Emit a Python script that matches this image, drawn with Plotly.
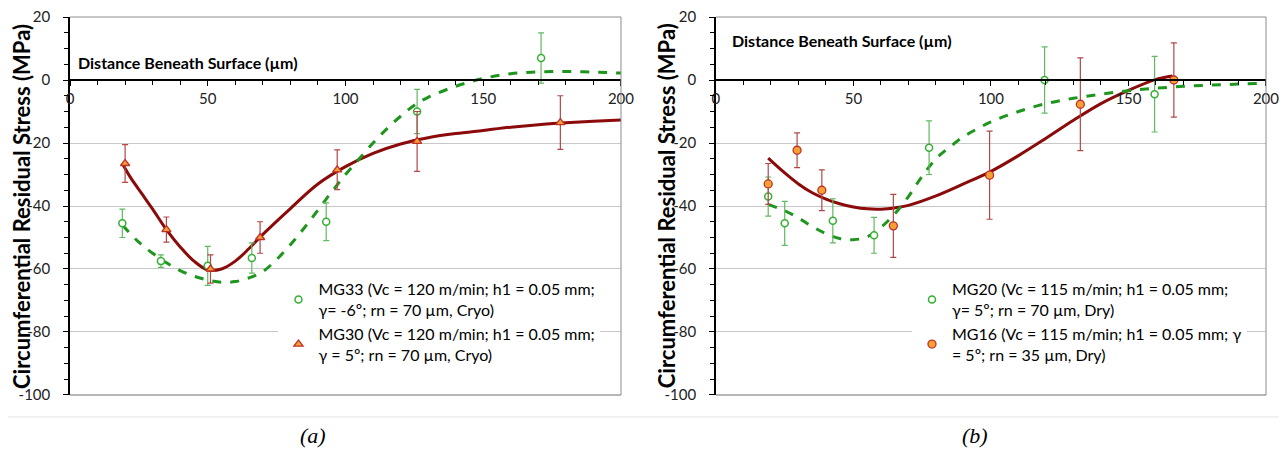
import plotly.graph_objects as go

# ---------------- panel (a) ----------------
a_mg33_x = [19, 33, 50, 66, 93, 126, 171]
a_mg33_y = [-45.5, -57.5, -59, -56.5, -45, -10, 7]
a_mg33_err = [4.5, 2, 6.2, 4.8, 6, 7, 8]

a_mg30_x = [20, 35, 51, 69, 97, 126, 178]
a_mg30_y = [-26.5, -47.5, -60, -50, -28.5, -19.5, -13.5]
a_mg30_err = [6, 4, 4.5, 5, 6.3, 9.5, 8.5]

# trend curves
a_fit33_x = [19, 25, 30, 35, 40, 45, 50, 55, 60, 65, 70, 75, 80, 85, 90, 95, 100,
             105, 110, 115, 120, 125, 130, 140, 150, 160, 170, 180, 190, 200]
a_fit33_y = [-46, -51.5, -55, -58, -60.5, -62.3, -63.5, -64.2, -64, -62.8, -60.8, -57,
             -52.3, -47, -41.3, -35.5, -30, -25, -20, -15.5, -11.5, -8, -5.5, -2,
             0.5, 2, 2.6, 2.7, 2.5, 2.2]

a_fit30_x = [19, 22, 26, 30, 35, 40, 45, 50, 55, 60, 65, 70, 80, 90, 100, 110, 120,
             130, 140, 150, 160, 170, 180, 190, 200]
a_fit30_y = [-26.5, -31, -36, -41, -47.5, -53, -57.5, -60.3, -60, -57.5, -53.5, -49,
             -40.8, -33, -27.5, -23.3, -20.3, -18.3, -17, -16, -15, -14.2, -13.6,
             -13.1, -12.7]

# ---------------- panel (b) ----------------
b_mg20_x = [19, 25, 42.5, 57.5, 77.5, 119.5, 159.5]
b_mg20_y = [-37, -45.5, -44.7, -49.3, -21.5, 0, -4.5]
b_mg20_err = [6.2, 7, 7, 5.7, 8.5, 10.5, 12]

b_mg16_x = [19, 29.5, 38.5, 64.5, 99.5, 132.5, 166.5]
b_mg16_y = [-33, -22.3, -35, -46.3, -30.2, -7.7, 0]
b_mg16_err = [6.5, 5.5, 6.5, 10, 14, 14.7, 11.8]

b_fit20_x = [19, 25, 30, 35, 40, 45, 50, 55, 60, 65, 70, 75, 80, 85, 90, 95, 100,
             110, 120, 130, 140, 150, 160, 170, 180, 190, 200]
b_fit20_y = [-39.5, -41.5, -43.8, -46.5, -48.8, -50.3, -50.7, -49.8, -46.8, -42.5,
             -37, -30.5, -25, -21.3, -18, -15.5, -13.3, -10, -7.5, -5.8, -4.5, -3.4,
             -2.6, -2, -1.6, -1.3, -1]

b_fit16_x = [19, 25, 30, 35, 40, 45, 50, 55, 60, 65, 70, 80, 90, 100, 110, 120, 130,
             140, 150, 160, 166]
b_fit16_y = [-24.8, -29.5, -33, -35.8, -37.8, -39.3, -40.3, -40.9, -41, -40.6, -39.8,
             -36.8, -33, -29, -24, -18.5, -12.8, -7.5, -3.3, 0.2, 1.3]

# tick labels
y_ticks = [-100, -80, -60, -40, -20, 0, 20]
y_ticklabels = ["-100", "-80", "-60", "-40", "-20", "0", "20"]
x_ticks = [0, 50, 100, 150, 200]
x_ticklabels = ["0", "50", "100", "150", "200"]

legend_a = ["MG33 (Vc = 120 m/min; h1 = 0.05 mm;<br>γ= -6º; rn = 70 µm, Cryo)",
            "MG30 (Vc = 120 m/min; h1 = 0.05 mm;<br>γ = 5º; rn = 70 µm, Cryo)"]
legend_b = ["MG20 (Vc = 115 m/min; h1 = 0.05 mm;<br>γ= 5º; rn = 70 µm, Dry)",
            "MG16 (Vc = 115 m/min; h1 = 0.05 mm; γ<br>= 5º; rn = 35 µm, Dry)"]

FONT = "Lato, Calibri, Carlito, sans-serif"
GREEN_LINE = "#1e961e"
GREEN_MK = "#35b035"
GREEN_ERR = "#62b862"
RED_LINE = "#8b0a0a"
RED_MK = "#c0302a"
RED_ERR = "#b04848"
ORANGE = "#f5a033"

fig = go.Figure()


def add_panel(xa, ya, leg, fit_red, fit_green, green_pts, red_pts, names, red_symbol):
    fig.add_trace(go.Scatter(x=fit_red[0], y=fit_red[1], mode="lines", line_shape="spline",
                             line=dict(color=RED_LINE, width=3), showlegend=False,
                             xaxis=xa, yaxis=ya, hoverinfo="skip"))
    fig.add_trace(go.Scatter(x=fit_green[0], y=fit_green[1], mode="lines", line_shape="spline",
                             line=dict(color=GREEN_LINE, width=3, dash="dash"), showlegend=False,
                             xaxis=xa, yaxis=ya, hoverinfo="skip"))
    fig.add_trace(go.Scatter(
        x=green_pts[0], y=green_pts[1], mode="markers", name=names[0], legend=leg,
        marker=dict(symbol="circle", size=7, color="white", line=dict(color=GREEN_MK, width=1.5)),
        error_y=dict(type="data", array=green_pts[2], color=GREEN_ERR, thickness=1.2, width=3),
        xaxis=xa, yaxis=ya))
    fig.add_trace(go.Scatter(
        x=red_pts[0], y=red_pts[1], mode="markers", name=names[1], legend=leg,
        marker=dict(symbol=red_symbol, size=8, color=ORANGE, line=dict(color=RED_MK, width=1.3)),
        error_y=dict(type="data", array=red_pts[2], color=RED_ERR, thickness=1.2, width=3),
        xaxis=xa, yaxis=ya))


add_panel("x", "y", "legend", (a_fit30_x, a_fit30_y), (a_fit33_x, a_fit33_y),
          (a_mg33_x, a_mg33_y, a_mg33_err), (a_mg30_x, a_mg30_y, a_mg30_err),
          legend_a, "triangle-up")
add_panel("x2", "y2", "legend2", (b_fit16_x, b_fit16_y), (b_fit20_x, b_fit20_y),
          (b_mg20_x, b_mg20_y, b_mg20_err), (b_mg16_x, b_mg16_y, b_mg16_err),
          legend_b, "circle")

xcommon = dict(range=[0, 200.01], anchor="free", position=100.01 / 120.02, showline=True,
               linecolor="black", linewidth=2, ticks="outside", ticklen=5, tickcolor="black",
               tickvals=x_ticks, ticktext=x_ticklabels, showgrid=False, zeroline=False,
               automargin=False, ticklabeloverflow="allow",
               minor=dict(dtick=10, ticks="outside", ticklen=4, tickcolor="black"),
               tickfont=dict(size=15, color="#222"))
ycommon = dict(range=[-100.01, 20.01], tickvals=y_ticks, ticktext=y_ticklabels,
               showline=True, linecolor="black", linewidth=1.5, ticks="outside", ticklen=5,
               tickcolor="black", showgrid=True, gridcolor="#c8c8c8", gridwidth=1,
               zeroline=False, automargin=False, ticklabelstandoff=10,
               ticklabeloverflow="allow",
               minor=dict(dtick=5, ticks="outside", ticklen=4, tickcolor="black"),
               tickfont=dict(size=15, color="#222"))

# the page body adds an 8 px offset, so the figure is 8 px smaller each way
fig.update_layout(
    width=1279, height=442,
    margin=dict(l=62, r=21, t=9, b=55),
    paper_bgcolor="white", plot_bgcolor="white",
    font=dict(family=FONT, color="black"),
    xaxis=dict(domain=[0, 0.4607], **xcommon),
    xaxis2=dict(domain=[0.5401, 1], **xcommon),
    yaxis=dict(anchor="x", **ycommon),
    yaxis2=dict(anchor="x2", **ycommon),
    legend=dict(x=0.1743, y=0.325, xanchor="left", yanchor="top", bgcolor="white",
                font=dict(size=16, family=FONT), itemwidth=30),
    legend2=dict(x=0.704, y=0.325, xanchor="left", yanchor="top", bgcolor="white",
                 font=dict(size=16, family=FONT), itemwidth=30),
)

# plot frames (top, right, bottom) and the figure separator
for xd, yd in (("x domain", "y domain"), ("x2 domain", "y2 domain")):
    fig.add_shape(type="line", xref=xd, yref=yd, x0=0, x1=1, y0=1, y1=1,
                  line=dict(color="#8c8c8c", width=1))
    fig.add_shape(type="line", xref=xd, yref=yd, x0=1, x1=1, y0=0, y1=1,
                  line=dict(color="#8c8c8c", width=1))
    fig.add_shape(type="line", xref=xd, yref=yd, x0=0, x1=1, y0=0, y1=0,
                  line=dict(color="#6e6e6e", width=1))
fig.add_shape(type="line", xref="paper", yref="paper", x0=-0.052, x1=1.0176,
              y0=-0.058, y1=-0.058, line=dict(color="#e6e6e6", width=1))

# y titles as rotated annotations so they sit exactly where the reference has them
for xp in (-0.041, 0.4985):
    fig.add_annotation(text="<b>Circumferential Residual Stress (MPa)</b>", textangle=-90,
                       xref="paper", yref="paper", x=xp, y=0.5, xanchor="center",
                       yanchor="middle", showarrow=False,
                       font=dict(size=22, family=FONT, color="black"))

fig.add_annotation(text="<b>Distance Beneath Surface (µm)</b>", xref="x domain", yref="y",
                   x=0.01, y=5.5, xanchor="left", yanchor="middle", showarrow=False,
                   font=dict(size=16, family=FONT, color="black"))
fig.add_annotation(text="<b>Distance Beneath Surface (µm)</b>", xref="x2 domain", yref="y2",
                   x=0.025, y=12.4, xanchor="left", yanchor="middle", showarrow=False,
                   font=dict(size=16, family=FONT, color="black"))
for lab, xp in (("(a)", 0.2032), ("(b)", 0.7567)):
    fig.add_annotation(text="<i>" + lab + "</i>", xref="paper", yref="paper", x=xp, y=-0.108,
                       xanchor="center", yanchor="middle", showarrow=False,
                       font=dict(size=22, family="Liberation Serif, serif", color="black"))

fig.write_html("out.html")
